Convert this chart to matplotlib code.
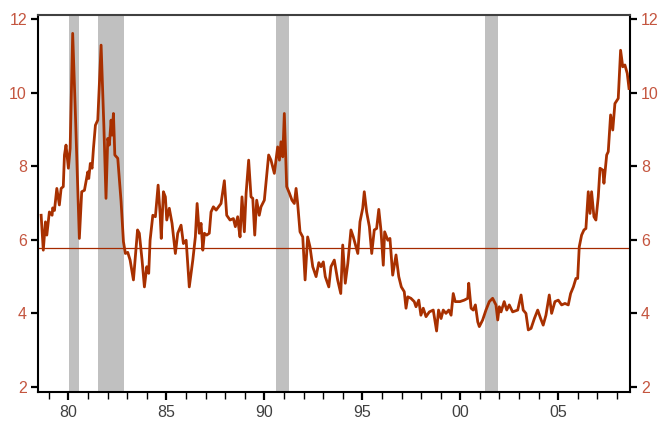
import matplotlib.pyplot as plt
from matplotlib.ticker import MultipleLocator, FuncFormatter

plt.rcParams['font.family'] = ['Liberation Sans', 'DejaVu Sans']

# (year, value)
data_78_87 = [
    (1978.61, 6.67), (1978.72, 5.72), (1978.83, 6.49), (1978.90, 6.13), (1979.03, 6.76),
    (1979.17, 6.67), (1979.20, 6.87), (1979.29, 6.80), (1979.41, 7.40), (1979.54, 6.95),
    (1979.63, 7.40), (1979.74, 7.45), (1979.80, 8.31), (1979.88, 8.58), (1980.00, 7.95),
    (1980.09, 8.49), (1980.22, 11.62), (1980.36, 9.40), (1980.48, 7.40), (1980.56, 6.04),
    (1980.68, 7.31), (1980.82, 7.35), (1980.99, 7.85), (1981.04, 7.67), (1981.12, 8.08),
    (1981.21, 7.95), (1981.28, 8.49), (1981.38, 9.12), (1981.50, 9.26), (1981.67, 11.30),
    (1981.81, 9.12), (1981.92, 7.13), (1982.01, 8.76), (1982.09, 8.58), (1982.18, 9.26),
    (1982.23, 8.85), (1982.30, 9.44), (1982.37, 8.31), (1982.52, 8.22), (1982.69, 7.04),
    (1982.81, 5.95), (1982.91, 5.63), (1983.03, 5.66), (1983.15, 5.45), (1983.32, 4.91),
    (1983.45, 5.77), (1983.53, 6.27), (1983.62, 6.18), (1983.76, 5.45), (1983.88, 4.72),
    (1984.00, 5.27), (1984.10, 5.09), (1984.17, 5.99), (1984.31, 6.67), (1984.44, 6.63),
    (1984.58, 7.49), (1984.68, 6.72), (1984.74, 6.04), (1984.85, 7.31), (1984.95, 7.17),
    (1985.02, 6.54), (1985.15, 6.86), (1985.29, 6.45), (1985.46, 5.63), (1985.58, 6.18),
    (1985.75, 6.40), (1985.87, 5.90), (1986.01, 5.99), (1986.17, 4.72), (1986.35, 5.45),
    (1986.48, 6.08), (1986.57, 6.99), (1986.68, 6.18), (1986.77, 6.45), (1986.86, 5.72),
    (1986.94, 6.18), (1987.06, 6.13), (1987.19, 6.18), (1987.28, 6.76), (1987.40, 6.90),
    (1987.54, 6.81), (1987.79, 6.99), (1987.96, 7.61),
]
data_88_97 = [
    (1988.08, 6.67), (1988.25, 6.54), (1988.42, 6.58), (1988.52, 6.36), (1988.64, 6.63),
    (1988.69, 6.36), (1988.76, 6.08), (1988.86, 7.17), (1988.98, 6.22), (1989.07, 7.27),
    (1989.20, 8.17), (1989.32, 7.17), (1989.41, 7.13), (1989.51, 6.13), (1989.61, 7.08),
    (1989.74, 6.67), (1989.83, 6.90), (1990.00, 7.08), (1990.22, 8.31), (1990.34, 8.17),
    (1990.51, 7.81), (1990.68, 8.53), (1990.77, 8.17), (1990.85, 8.67), (1990.94, 8.26),
    (1991.02, 9.44), (1991.14, 7.45), (1991.28, 7.27), (1991.41, 7.08), (1991.53, 6.99),
    (1991.62, 7.40), (1991.70, 6.99), (1991.82, 6.22), (1991.96, 6.08), (1992.08, 4.91),
    (1992.21, 6.08), (1992.33, 5.81), (1992.47, 5.27), (1992.64, 5.00), (1992.78, 5.38),
    (1992.89, 5.27), (1993.01, 5.40), (1993.11, 5.00), (1993.29, 4.72), (1993.40, 5.27),
    (1993.57, 5.45), (1993.74, 4.91), (1993.90, 4.54), (1994.00, 5.86), (1994.13, 4.82),
    (1994.26, 5.36), (1994.42, 6.27), (1994.54, 6.08), (1994.77, 5.63), (1994.88, 6.49),
    (1995.02, 6.86), (1995.10, 7.31), (1995.22, 6.76), (1995.36, 6.36), (1995.48, 5.63),
    (1995.61, 6.27), (1995.73, 6.31), (1995.84, 6.83), (1995.95, 6.27), (1996.07, 5.31),
    (1996.14, 6.22), (1996.30, 5.99), (1996.41, 6.04), (1996.55, 5.04), (1996.72, 5.59),
    (1996.86, 5.00), (1996.99, 4.72), (1997.14, 4.59), (1997.23, 4.14), (1997.32, 4.45),
    (1997.48, 4.41), (1997.65, 4.32), (1997.74, 4.18), (1997.88, 4.36), (1997.99, 3.95),
]
data_98_08 = [
    (1998.11, 4.14), (1998.25, 3.91), (1998.42, 4.04), (1998.62, 4.09), (1998.79, 3.52),
    (1998.89, 4.09), (1999.02, 3.86), (1999.13, 4.09), (1999.27, 4.00), (1999.41, 4.09),
    (1999.53, 3.95), (1999.64, 4.54), (1999.74, 4.32), (1999.98, 4.32), (2000.20, 4.36),
    (2000.38, 4.41), (2000.43, 4.82), (2000.55, 4.14), (2000.66, 4.09), (2000.77, 4.23),
    (2000.89, 3.77), (2000.97, 3.64), (2001.14, 3.82), (2001.31, 4.09), (2001.48, 4.32),
    (2001.65, 4.41), (2001.82, 4.23), (2001.91, 3.82), (2001.99, 4.18), (2002.08, 4.04),
    (2002.24, 4.32), (2002.37, 4.09), (2002.50, 4.23), (2002.67, 4.04), (2002.93, 4.09),
    (2003.10, 4.50), (2003.21, 4.09), (2003.35, 4.00), (2003.47, 3.55), (2003.61, 3.59),
    (2003.78, 3.86), (2003.95, 4.09), (2004.10, 3.86), (2004.23, 3.68), (2004.37, 3.95),
    (2004.54, 4.50), (2004.66, 4.00), (2004.83, 4.32), (2005.00, 4.36), (2005.17, 4.23),
    (2005.34, 4.27), (2005.51, 4.23), (2005.63, 4.54), (2005.77, 4.72), (2005.90, 4.95),
    (2005.99, 4.95), (2006.07, 5.81), (2006.19, 6.13), (2006.31, 6.27), (2006.41, 6.31),
    (2006.53, 7.31), (2006.62, 6.72), (2006.70, 7.31), (2006.82, 6.63), (2006.92, 6.54),
    (2007.04, 7.17), (2007.13, 7.95), (2007.27, 7.90), (2007.33, 7.54), (2007.47, 8.31),
    (2007.55, 8.40), (2007.67, 9.40), (2007.78, 8.99), (2007.89, 9.71), (2008.06, 9.85),
    (2008.18, 11.16), (2008.29, 10.71), (2008.40, 10.76), (2008.52, 10.53), (2008.61, 10.12),
]

recessions = [(1980.05, 1980.55), (1981.53, 1982.83), (1990.58, 1991.25), (2001.26, 2001.94)]
long_run_avg = 5.78
y_ticks = [2, 4, 6, 8, 10, 12]

obs = data_78_87 + data_88_97 + data_98_08
x = [p[0] for p in obs]
y = [p[1] for p in obs]

fig = plt.figure(figsize=(6.63, 4.23), dpi=100)
ax = fig.add_axes([38 / 663, 1 - 392 / 423, 592 / 663, 377 / 423])

for start, end in recessions:
    ax.axvspan(start, end, color='#C0C0C0', lw=0, zorder=1)

ax.axhline(long_run_avg, color='#A52A00', lw=0.9, zorder=2)
ax.plot(x, y, color='#A83000', lw=2.0, zorder=3)

ax.set_xlim(1978.45, 2008.66)
ax.set_ylim(1.86, 12.12)

ax.xaxis.set_major_locator(MultipleLocator(5))
ax.xaxis.set_minor_locator(MultipleLocator(1))
ax.xaxis.set_major_formatter(FuncFormatter(lambda v, pos: f"{int(round(v)) % 100:02d}"))
ax.set_yticks(y_ticks)

ax.tick_params(axis='y', which='both', left=True, right=True, labelleft=True, labelright=True,
               direction='out', length=5, width=1.6, labelsize=11.5, labelcolor='#C4553F', pad=3)
ax.tick_params(axis='x', which='major', direction='out', length=6, width=1.6,
               labelsize=11.5, labelcolor='#404040', pad=3)
ax.tick_params(axis='x', which='minor', direction='out', length=5, width=1.0)

for side in ['left', 'right', 'bottom']:
    ax.spines[side].set_color('black')
    ax.spines[side].set_linewidth(1.5)
ax.spines['top'].set_color('#404040')
ax.spines['top'].set_linewidth(1.5)

plt.savefig('out.png', dpi=100)
